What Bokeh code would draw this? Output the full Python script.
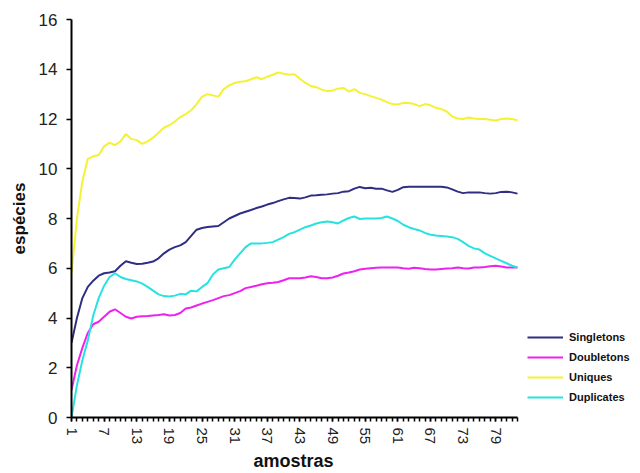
from bokeh.plotting import figure
from bokeh.models import Range1d, FixedTicker, Legend, LegendItem, Title
from bokeh.embed import file_html
from bokeh.resources import INLINE

samples = list(range(1, 84))

singletons = [3.0, 4.0, 4.8, 5.25, 5.5, 5.7, 5.8, 5.83, 5.88, 6.1,
              6.28, 6.22, 6.17, 6.18, 6.22, 6.27, 6.4, 6.6, 6.75, 6.85,
              6.92, 7.05, 7.3, 7.55, 7.62, 7.66, 7.68, 7.7, 7.85, 8.0,
              8.1, 8.2, 8.27, 8.34, 8.42, 8.48, 8.56, 8.62, 8.7, 8.77,
              8.83, 8.82, 8.8, 8.85, 8.92, 8.93, 8.95, 8.97, 9.0, 9.02,
              9.08, 9.1, 9.2, 9.27, 9.22, 9.24, 9.2, 9.2, 9.13, 9.07,
              9.15, 9.26, 9.28, 9.28, 9.28, 9.28, 9.28, 9.28, 9.28, 9.25,
              9.17, 9.08, 9.02, 9.05, 9.05, 9.05, 9.02, 9.0, 9.02, 9.07,
              9.08, 9.05, 9.0]

doubletons = [1.1, 2.1, 2.8, 3.4, 3.75, 3.85, 4.05, 4.25, 4.35, 4.2,
              4.05, 3.98, 4.05, 4.07, 4.08, 4.1, 4.12, 4.15, 4.1, 4.12,
              4.2, 4.38, 4.42, 4.5, 4.58, 4.65, 4.72, 4.8, 4.88, 4.92,
              5.0, 5.08, 5.2, 5.25, 5.3, 5.36, 5.4, 5.42, 5.45, 5.52,
              5.6, 5.6, 5.6, 5.63, 5.68, 5.65, 5.6, 5.6, 5.63, 5.7,
              5.79, 5.83, 5.88, 5.95, 5.98, 6.0, 6.02, 6.03, 6.03, 6.03,
              6.03, 6.0, 5.98, 6.02, 6.0, 5.97, 5.95, 5.95, 5.97, 5.99,
              6.0, 6.03, 6.0, 5.99, 6.03, 6.03, 6.05, 6.08, 6.1, 6.07,
              6.03, 6.03, 6.03]

uniques = [5.8, 8.0, 9.5, 10.4, 10.5, 10.55, 10.9, 11.05, 10.95, 11.1,
           11.4, 11.2, 11.15, 11.0, 11.1, 11.25, 11.45, 11.65, 11.75, 11.9,
           12.08, 12.2, 12.35, 12.6, 12.9, 13.0, 12.95, 12.9, 13.2, 13.35,
           13.45, 13.5, 13.52, 13.6, 13.68, 13.6, 13.7, 13.78, 13.87, 13.82,
           13.78, 13.8, 13.62, 13.45, 13.33, 13.28, 13.18, 13.12, 13.15, 13.22,
           13.25, 13.1, 13.2, 13.05, 13.0, 12.92, 12.85, 12.78, 12.68, 12.6,
           12.58, 12.65, 12.64, 12.6, 12.52, 12.6, 12.55, 12.45, 12.4, 12.3,
           12.1, 12.02, 12.0, 12.06, 12.02, 12.0, 12.0, 11.97, 11.94, 12.0,
           12.02, 12.0, 11.95]

duplicates = [0.0, 1.3, 2.3, 3.1, 4.1, 4.8, 5.3, 5.65, 5.8, 5.65,
              5.57, 5.52, 5.47, 5.38, 5.25, 5.1, 4.95, 4.88, 4.86, 4.9,
              4.97, 4.95, 5.1, 5.07, 5.25, 5.4, 5.75, 5.95, 6.0, 6.05,
              6.35, 6.6, 6.85, 7.0, 7.0, 7.0, 7.02, 7.05, 7.15, 7.25,
              7.38, 7.45, 7.55, 7.65, 7.72, 7.8, 7.85, 7.88, 7.85, 7.8,
              7.92, 8.02, 8.08, 7.98, 8.0, 8.0, 8.0, 8.02, 8.08, 8.0,
              7.9, 7.75, 7.65, 7.58, 7.52, 7.42, 7.35, 7.32, 7.3, 7.28,
              7.25, 7.18, 7.05, 6.9, 6.8, 6.75, 6.6, 6.5, 6.4, 6.3,
              6.2, 6.1, 6.03]

series_names = ["Singletons", "Doubletons", "Uniques", "Duplicates"]
series_values = [singletons, doubletons, uniques, duplicates]
series_colors = ["#2e2e82", "#ee22ee", "#f4f232", "#28e2e2"]

x_tick_labels = list(range(1, 84, 6))
y_tick_labels = list(range(0, 17, 2))
x_title = "amostras"
y_title = "espécies"

FONT = "Liberation Sans"

# frame spans to the right edge so the legend (inside the frame) is not clipped;
# the x axis line itself is limited to the samples by axis.bounds
n = len(samples)
frame_left, axis_right, frame_right = 71, 517, 632
x_end = 1 + (n - 1) * (frame_right - frame_left) / (axis_right - frame_left)

p = figure(width=640, height=473, output_backend="svg", toolbar_location=None,
           x_range=Range1d(1, x_end), y_range=Range1d(0, 16),
           min_border_left=frame_left, min_border_right=640 - frame_right,
           min_border_top=19, min_border_bottom=56)
p.outline_line_color = None
p.xgrid.visible = False
p.ygrid.visible = False
p.background_fill_color = "white"
p.border_fill_color = "white"

items = []
for name, vals, col in zip(series_names, series_values, series_colors):
    r = p.line(samples, vals, line_color=col, line_width=2)
    items.append(LegendItem(label=name, renderers=[r]))

# axes
xa = p.xaxis[0]
xa.bounds = (1, n)
xa.ticker = FixedTicker(ticks=x_tick_labels, minor_ticks=samples)
xa.major_label_orientation = "vertical"
xa.major_label_text_font = FONT
xa.major_label_text_font_size = "15px"
xa.major_label_text_color = "#222222"
xa.major_label_standoff = 6
xa.major_tick_out = 4
xa.major_tick_in = 0
xa.minor_tick_out = 4
xa.minor_tick_in = 0
xa.axis_line_width = 2
xa.major_tick_line_width = 1.5
xa.minor_tick_line_width = 1.5

# x title centred under the sample axis (not under the whole frame)
xt = Title(text=x_title, align="left", offset=182, standoff=2,
           text_font=FONT, text_font_size="18px", text_font_style="bold",
           text_color="#111111")
p.add_layout(xt, "below")

ya = p.yaxis[0]
ya.ticker = FixedTicker(ticks=y_tick_labels, minor_ticks=[])
ya.major_label_text_font = FONT
ya.major_label_text_font_size = "17px"
ya.major_label_text_color = "#222222"
ya.major_label_standoff = 9
ya.major_tick_out = 5
ya.major_tick_in = 0
ya.minor_tick_out = 0
ya.minor_tick_in = 0
ya.axis_line_width = 2
ya.major_tick_line_width = 1.5
ya.axis_label = y_title
ya.axis_label_text_font = FONT
ya.axis_label_text_font_size = "17px"
ya.axis_label_text_font_style = "bold"
ya.axis_label_text_color = "#111111"
ya.axis_label_standoff = 7

legend = Legend(items=items, location=(456, 10))
legend.border_line_color = None
legend.background_fill_alpha = 0
legend.padding = 0
legend.margin = 0
legend.spacing = 0
legend.glyph_width = 36
legend.glyph_height = 20
legend.label_height = 20
legend.label_standoff = 6
legend.label_text_font = FONT
legend.label_text_font_size = "11px"
legend.label_text_font_style = "bold"
legend.label_text_color = "#111111"
legend.label_text_baseline = "middle"
p.add_layout(legend, "center")

open("out.html", "w").write(file_html(p, INLINE))
